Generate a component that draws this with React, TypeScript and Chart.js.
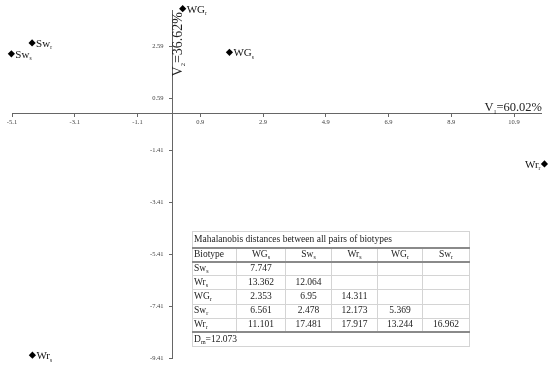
import React, { useEffect, useRef } from 'react';
import { Chart, registerables } from 'chart.js';

Chart.register(...registerables);

// ---- data ----
const pointNames = ['WG', 'WG', 'Sw', 'Sw', 'Wr', 'Wr'];
const pointSubs = ['s', 'r', 's', 'r', 's', 'r'];
const v1Values = [1.83, 0.34, -5.12, -4.46, -4.45, 11.87];
const v2Values = [2.37, 4.05, 2.31, 2.73, -9.3, -1.93];
const labelSides = ['right', 'right', 'right', 'right', 'right', 'left'];

const xTickValues = [-5.1, -3.1, -1.1, 0.9, 2.9, 4.9, 6.9, 8.9, 10.9];
const xTickLabels = ['-5.1', '-3.1', '-1.1', '0.9', '2.9', '4.9', '6.9', '8.9', '10.9'];
const yTickValues = [2.59, 0.59, -1.41, -3.41, -5.41, -7.41, -9.41];
const yTickLabels = ['2.59', '0.59', '-1.41', '-3.41', '-5.41', '-7.41', '-9.41'];

const xTitleParts = ['V', '1', '=60.02%'];
const yTitleParts = ['V', '2', '=36.62%'];

const tableTitle = 'Mahalanobis distances between all pairs of biotypes';
const tableFirstHeader = 'Biotype';
const colNames = ['WG', 'Sw', 'Wr', 'WG', 'Sw'];
const colSubs = ['s', 's', 's', 'r', 'r'];
const rowNames = ['Sw', 'Wr', 'WG', 'Sw', 'Wr'];
const rowSubs = ['s', 's', 'r', 'r', 'r'];
const distWGs = [7.747, 13.362, 2.353, 6.561, 11.101];
const distSws = [null, 12.064, 6.95, 2.478, 17.481];
const distWrs = [null, null, 14.311, 12.173, 17.917];
const distWGr = [null, null, null, 5.369, 13.244];
const distSwr = [null, null, null, null, 16.962];
const dmLabel = ['D', 'm', '=12.073'];

const serif = "'Liberation Serif', 'Times New Roman', serif";

function drawSubText(
  ctx: CanvasRenderingContext2D,
  parts: string[],
  x: number,
  y: number,
  align: 'left' | 'right',
  size: number,
  subSize: number,
  drop: number
) {
  const [main, sub, rest] = parts;
  ctx.font = `${size}px ${serif}`;
  const w1 = ctx.measureText(main).width;
  const w3 = rest ? ctx.measureText(rest).width : 0;
  ctx.font = `${subSize}px ${serif}`;
  const w2 = ctx.measureText(sub).width;
  const sx = align === 'left' ? x : x - (w1 + w2 + w3);
  ctx.textAlign = 'left';
  ctx.textBaseline = 'alphabetic';
  ctx.font = `${size}px ${serif}`;
  ctx.fillText(main, sx, y);
  ctx.font = `${subSize}px ${serif}`;
  ctx.fillText(sub, sx + w1, y + drop);
  if (rest) {
    ctx.font = `${size}px ${serif}`;
    ctx.fillText(rest, sx + w1 + w2, y);
  }
}

const labelPlugin = {
  id: 'pointLabelsAndTitles',
  afterDatasetsDraw(chart: any) {
    const ctx: CanvasRenderingContext2D = chart.ctx;
    const meta = chart.getDatasetMeta(0);
    const xs = chart.scales.x;
    const ys = chart.scales.y;
    const x0 = xs.getPixelForValue(0);
    const y0 = ys.getPixelForValue(0);
    ctx.save();
    // y tick labels (left of the centred axis)
    ctx.fillStyle = '#444';
    ctx.font = `6.5px ${serif}`;
    ctx.textAlign = 'right';
    ctx.textBaseline = 'middle';
    yTickValues.forEach((v, i) => {
      ctx.fillText(yTickLabels[i], x0 - 8.5, ys.getPixelForValue(v));
    });
    // point labels
    ctx.fillStyle = '#111';
    meta.data.forEach((el: any, i: number) => {
      const { x, y } = el.getProps(['x', 'y'], true);
      if (labelSides[i] === 'left') {
        drawSubText(ctx, [pointNames[i], pointSubs[i], ''], x - 4, y + 4, 'right', 11, 5.5, 2.5);
      } else {
        drawSubText(ctx, [pointNames[i], pointSubs[i], ''], x + 4, y + 4, 'left', 11, 5.5, 2.5);
      }
    });
    // axis titles
    ctx.fillStyle = '#222';
    drawSubText(ctx, xTitleParts, chart.chartArea.right + 1, y0 - 2.5, 'right', 12.5, 6, 2.5);
    ctx.save();
    ctx.translate(x0 + 10, chart.chartArea.top + 2);
    ctx.rotate(-Math.PI / 2);
    drawSubText(ctx, yTitleParts, 0, 0, 'right', 14, 6.5, 2.5);
    ctx.restore();
    ctx.restore();
  },
};

function Sub({ t }: { t: string }) {
  return (
    <span style={{ fontSize: 6, position: 'relative', top: 2, lineHeight: 0 }}>{t}</span>
  );
}

const light = '1px solid #d4d4d4';
const dark = '2px solid #8a8a8a';

export default function App() {
  const canvasRef = useRef<HTMLCanvasElement>(null);

  useEffect(() => {
    const canvas = canvasRef.current;
    if (!canvas) return;
    const chart = new Chart(canvas, {
      type: 'scatter',
      data: {
        datasets: [
          {
            data: v1Values.map((v, i) => ({ x: v, y: v2Values[i] })),
            pointStyle: 'rectRot',
            pointRadius: 3.6,
            pointBackgroundColor: '#000',
            pointBorderColor: '#000',
            pointBorderWidth: 0,
            clip: false as any,
          },
        ],
      },
      options: {
        animation: false,
        responsive: false,
        devicePixelRatio: 1,
        events: [],
        layout: { padding: { left: 12, top: 10, right: 9, bottom: 13 } },
        plugins: {
          legend: { display: false },
          tooltip: { enabled: false },
          title: { display: false },
        },
        scales: {
          x: {
            type: 'linear',
            position: { y: 0 } as any,
            min: -5.1,
            max: 11.76,
            afterBuildTicks: (scale: any) => {
              scale.ticks = xTickValues.map((v) => ({ value: v }));
            },
            ticks: {
              autoSkip: false,
              maxRotation: 0,
              padding: 2,
              color: '#444',
              font: { family: serif, size: 6.5 },
              callback: (_v: any, i: number) => xTickLabels[i],
            },
            grid: { drawOnChartArea: false, drawTicks: true, tickLength: 3, color: '#666' },
            border: { display: true, color: '#666', width: 1 },
          },
          y: {
            type: 'linear',
            position: { x: 0 } as any,
            min: -9.41,
            max: 4.0,
            afterBuildTicks: (scale: any) => {
              scale.ticks = yTickValues.map((v) => ({ value: v }));
            },
            ticks: {
              display: false,
              autoSkip: false,
            },
            grid: { drawOnChartArea: false, drawTicks: true, tickLength: 3, color: '#666' },
            border: { display: true, color: '#666', width: 1 },
          },
        },
      } as any,
      plugins: [labelPlugin],
    });
    return () => chart.destroy();
  }, []);

  const cols = [distWGs, distSws, distWrs, distWGr, distSwr];
  const cell: React.CSSProperties = {
    border: light,
    padding: '0 2px',
    textAlign: 'center',
    whiteSpace: 'nowrap',
    overflow: 'hidden',
  };

  return (
    <div style={{ position: 'absolute', left: 0, top: 0, width: 550, height: 371, background: '#fff' }}>
      <canvas ref={canvasRef} width={550} height={371} style={{ display: 'block' }} />
      <table
        style={{
          position: 'absolute',
          left: 192,
          top: 231,
          width: 277,
          borderCollapse: 'collapse',
          tableLayout: 'fixed',
          fontFamily: serif,
          fontSize: 9.5,
          color: '#222',
          lineHeight: 1,
        }}
      >
        <colgroup>
          <col style={{ width: 44 }} />
          <col style={{ width: 49 }} />
          <col style={{ width: 46 }} />
          <col style={{ width: 46 }} />
          <col style={{ width: 45 }} />
          <col style={{ width: 47 }} />
        </colgroup>
        <tbody>
          <tr style={{ height: 16 }}>
            <td colSpan={6} style={{ ...cell, textAlign: 'left', borderBottom: dark, paddingLeft: 1 }}>
              {tableTitle}
            </td>
          </tr>
          <tr style={{ height: 14 }}>
            <td style={{ ...cell, textAlign: 'left', borderBottom: dark, paddingLeft: 1 }}>{tableFirstHeader}</td>
            {colNames.map((n, j) => (
              <td key={j} style={{ ...cell, borderBottom: dark }}>
                {n}
                <Sub t={colSubs[j]} />
              </td>
            ))}
          </tr>
          {rowNames.map((rn, i) => (
            <tr key={i} style={{ height: 14.2 }}>
              <td
                style={{
                  ...cell,
                  textAlign: 'left',
                  paddingLeft: 1,
                  borderBottom: i === rowNames.length - 1 ? dark : light,
                }}
              >
                {rn}
                <Sub t={rowSubs[i]} />
              </td>
              {cols.map((c, j) => (
                <td key={j} style={{ ...cell, borderBottom: i === rowNames.length - 1 ? dark : light }}>
                  {c[i] === null ? '' : String(c[i])}
                </td>
              ))}
            </tr>
          ))}
          <tr style={{ height: 14 }}>
            <td colSpan={6} style={{ ...cell, textAlign: 'left', paddingLeft: 1 }}>
              {dmLabel[0]}
              <Sub t={dmLabel[1]} />
              {dmLabel[2]}
            </td>
          </tr>
        </tbody>
      </table>
    </div>
  );
}
